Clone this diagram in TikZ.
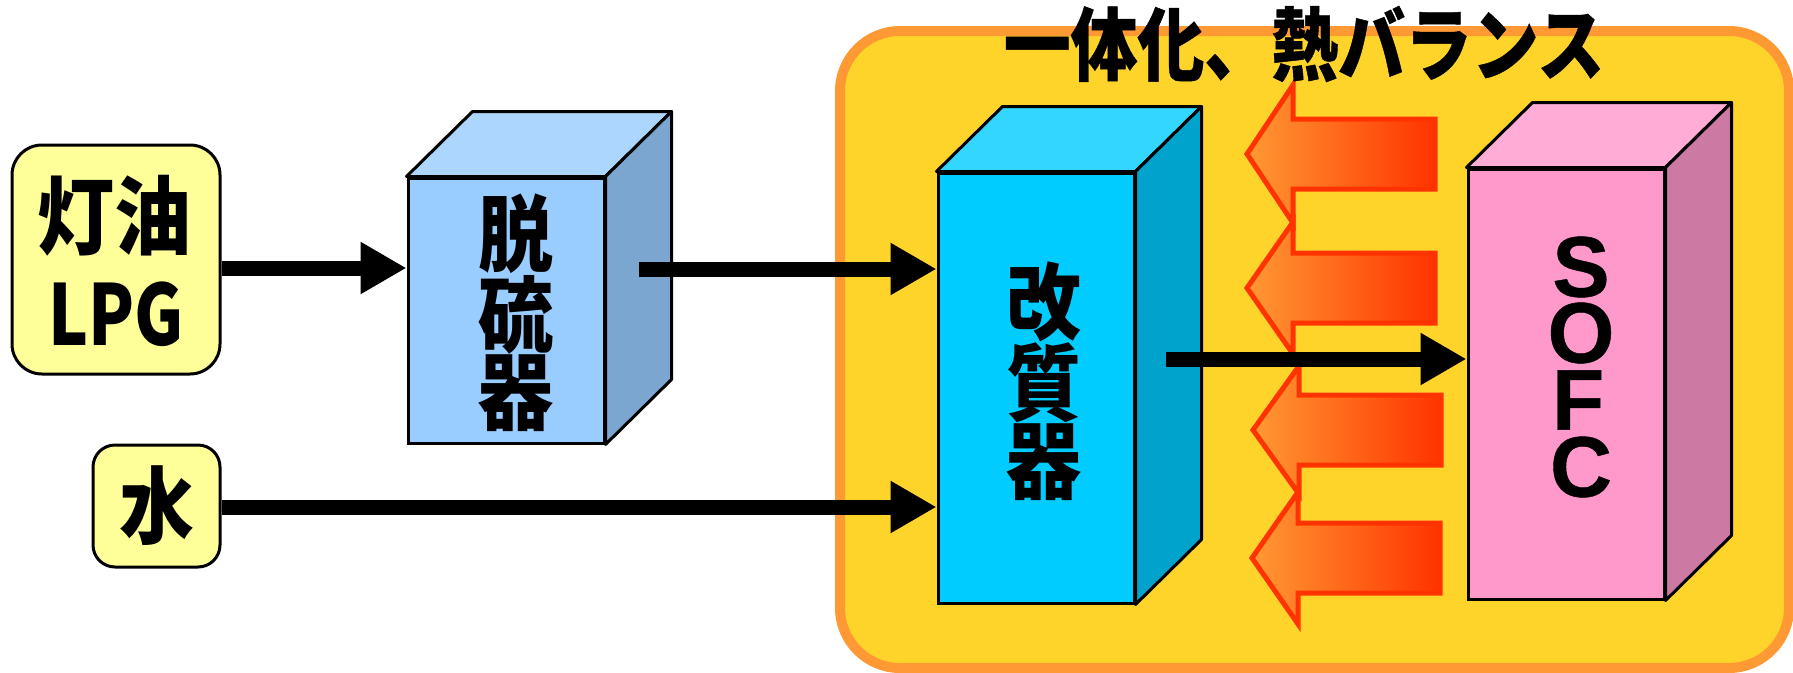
\documentclass[tikz,border=0pt]{standalone}
\usepackage{fontspec}
\usepackage{graphicx}
\setmainfont{Liberation Sans}[BoldFeatures={FakeBold=0.5}]
\newfontfamily\jp{Noto Sans CJK JP}
\newfontfamily\jpheavy{Noto Sans CJK JP}[BoldFeatures={FakeBold=0.6}]
\usetikzlibrary{arrows.meta,calc}
\definecolor{bgyel}{HTML}{FFD42A}
\definecolor{bgorange}{HTML}{FF9933}
\definecolor{boxyel}{HTML}{FFFF99}
\definecolor{dsfFront}{HTML}{99CCFF}
\definecolor{dsfTop}{HTML}{ADD6FF}
\definecolor{dsfSide}{HTML}{7BA6CF}
\definecolor{refFront}{HTML}{00CCFF}
\definecolor{refTop}{HTML}{33D6FF}
\definecolor{refSide}{HTML}{00A3CC}
\definecolor{sofcFront}{HTML}{FF99CC}
\definecolor{sofcTop}{HTML}{FFADD6}
\definecolor{sofcSide}{HTML}{CC7AA3}
\definecolor{heatL}{HTML}{FF9933}
\definecolor{heatR}{HTML}{FF3300}
\newcommand\tallch[1]{\scalebox{1}[1.12]{#1}}
\tikzset{
  srcbox/.style={draw=black, line width=3pt, fill=boxyel, rounded corners=30pt, inner sep=0pt},
  frontface/.style={draw=black, line width=3pt, inner sep=0pt, minimum width=196pt},
  cubeface/.style={draw=black, line width=3pt, line join=round},
  flow/.style={line width=15pt, -{Triangle[length=46pt,width=49pt]}},
  heat/.style={draw=heatR, line width=5pt, left color=heatL, right color=heatR},
  cjklabel/.style={font=\jp\bfseries\fontsize{75}{76}\selectfont, align=center, inner sep=0pt},
  sofcletter/.style={font=\bfseries\fontsize{86}{86}\selectfont, inner sep=0pt},
}
\newcommand\cubefaces[3]{%
  \filldraw[cubeface, fill=#2] (#1.north west) -- ++(66,-65) -- ($(#1.north east)+(66,-65)$) -- (#1.north east) -- cycle;
  \filldraw[cubeface, fill=#3] (#1.north east) -- ++(66,-65) -- ($(#1.south east)+(66,-65)$) -- (#1.south east) -- cycle;}
\newcommand\heatarr[4]{%
  \shadedraw[heat] (#1,#2) -- (#1+46,#2-#4) -- (#1+46,#2-35) -- (#3,#2-35) -- (#3,#2+35) -- (#1+46,#2+35) -- (#1+46,#2+#4) -- cycle;}
\begin{document}
\begin{tikzpicture}[x=1pt,y=-1pt]
\useasboundingbox (0,0) rectangle (1793,672);
% integrated zone
\draw[line width=10pt, draw=bgorange, fill=bgyel, rounded corners=60pt] (840,31) rectangle (1789,668);
% heat arrows
\heatarr{1247}{154}{1435}{69}
\heatarr{1247}{288}{1435}{66}
\heatarr{1253}{430}{1441}{64}
\heatarr{1252}{558}{1440}{66}
% sources
\node[srcbox, minimum width=208pt, minimum height=229pt] (lpg) at (116,259.5) {};
\node[cjklabel, font=\jp\bfseries\fontsize{77}{76}\selectfont] (lpgtxt1) at (114,216) {\tallch{灯油}};
\node[font=\jp\bfseries\fontsize{84}{84}\selectfont, inner sep=0pt] (lpgtxt2) at (116,314) {\scalebox{0.8}[1]{LPG}};
\node[srcbox, rounded corners=22pt, minimum width=127pt, minimum height=122pt, font=\jp\bfseries\fontsize{75}{76}\selectfont] (water) at (156.5,506) {\tallch{水}};
% desulfurizer
\node[frontface, fill=dsfFront, minimum height=265pt] (dsf) at (506,310.5) {};
\cubefaces{dsf}{dsfTop}{dsfSide}
\node[cjklabel] (dsftxt) at (516,313) {\tallch{脱}\\\tallch{硫}\\\tallch{器}};
% reformer
\node[frontface, fill=refFront, minimum height=430pt] (ref) at (1036,388) {};
\cubefaces{ref}{refTop}{refSide}
\node[cjklabel, font=\jp\bfseries\fontsize{75}{75}\selectfont] (reftxt) at (1044,381) {\tallch{改}\\\tallch{質}\\\tallch{器}};
% SOFC
\node[frontface, fill=sofcFront, minimum height=430pt] (sofc) at (1566,384) {};
\cubefaces{sofc}{sofcTop}{sofcSide}
\node[sofcletter] (ls) at (1581,267) {S};
\node[sofcletter] (lo) at (1581,333) {O};
\node[sofcletter] (lf) at (1578,400) {F};
\node[sofcletter] (lc) at (1581,467) {C};
% flows
\coordinate (y1) at (0,268);
\draw[flow] (lpg.east |- y1) -- (dsf.west |- y1);
\coordinate (s2) at (639,269);
\draw[flow] (s2) -- (ref.west |- s2);
\coordinate (y3) at (0,507);
\draw[flow] (water.east |- y3) -- (ref.west |- y3);
\coordinate (s3) at (1166,359);
\draw[flow] (s3) -- (sofc.west |- s3);
% title
\node[font=\jpheavy\bfseries\fontsize{76}{80}\selectfont, inner sep=0pt] (title) at (1304,44) {\scalebox{0.88}[1.05]{一体化、熱バランス}};
\end{tikzpicture}
\end{document}
